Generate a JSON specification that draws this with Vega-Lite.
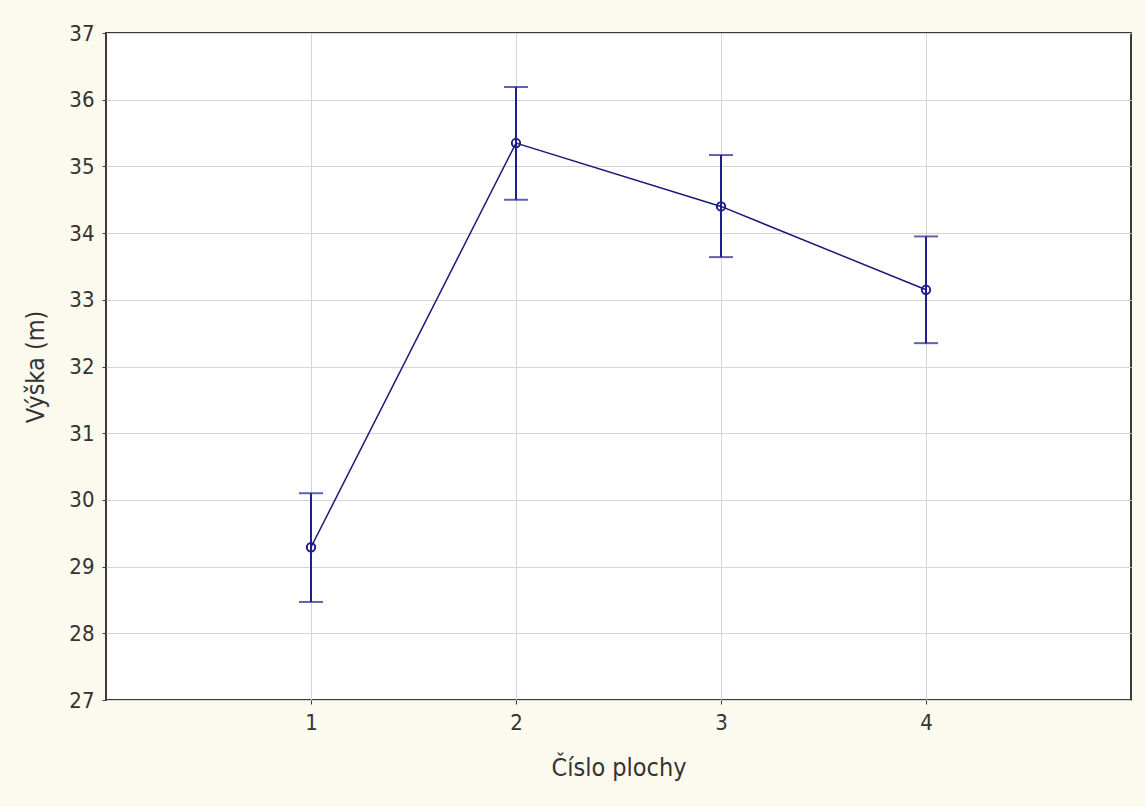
{
  "$schema": "https://vega.github.io/schema/vega-lite/v6.json",
  "autosize": {"type": "none"},
  "padding": {"left": 106, "top": 33, "right": 14, "bottom": 107},
  "width": 1025,
  "height": 667,
  "background": "#fcf9ef",
  "config": {
    "view": {"fill": "#ffffff", "stroke": "#3a3a3a", "strokeWidth": 2},
    "font": "'DejaVu Sans Condensed', sans-serif",
    "axis": {
      "domain": false,
      "grid": true,
      "gridColor": "#d4d4d4",
      "gridWidth": 1,
      "tickColor": "#3a3a3a",
      "tickSize": 4,
      "labelColor": "#333333",
      "titleColor": "#333333",
      "labelFont": "'DejaVu Sans Condensed', sans-serif",
      "titleFont": "'DejaVu Sans Condensed', sans-serif",
      "labelFontSize": 22,
      "titleFontSize": 25,
      "titleFontWeight": "normal"
    }
  },
  "data": {
    "values": [
      {"plocha": 1, "vyska": 29.29, "lo": 28.47, "hi": 30.10},
      {"plocha": 2, "vyska": 35.35, "lo": 34.50, "hi": 36.19},
      {"plocha": 3, "vyska": 34.40, "lo": 33.64, "hi": 35.17},
      {"plocha": 4, "vyska": 33.15, "lo": 32.35, "hi": 33.95}
    ]
  },
  "encoding": {
    "x": {
      "field": "plocha",
      "type": "quantitative",
      "scale": {"domain": [0, 5], "nice": false, "zero": false},
      "axis": {"values": [1, 2, 3, 4], "format": "d", "title": "Číslo plochy", "labelPadding": 8, "titlePadding": 22}
    }
  },
  "layer": [
    {
      "mark": {
        "type": "errorbar",
        "ticks": {"size": 24, "thickness": 2, "color": "#1e1e8c"},
        "rule": {"strokeWidth": 2, "color": "#1e1e8c"}
      },
      "encoding": {
        "y": {
          "field": "lo",
          "type": "quantitative",
          "scale": {"domain": [27, 37], "nice": false, "zero": false},
          "axis": {"values": [27, 28, 29, 30, 31, 32, 33, 34, 35, 36, 37], "format": "d", "title": "Výška (m)", "labelPadding": 8, "titlePadding": 20}
        },
        "y2": {"field": "hi"}
      }
    },
    {
      "mark": {"type": "line", "color": "#1a1a7a", "strokeWidth": 1.5},
      "encoding": {"y": {"field": "vyska", "type": "quantitative"}}
    },
    {
      "mark": {"type": "point", "shape": "circle", "filled": false, "size": 70, "stroke": "#1e1e8c", "strokeWidth": 2, "opacity": 1},
      "encoding": {"y": {"field": "vyska", "type": "quantitative"}}
    }
  ]
}
